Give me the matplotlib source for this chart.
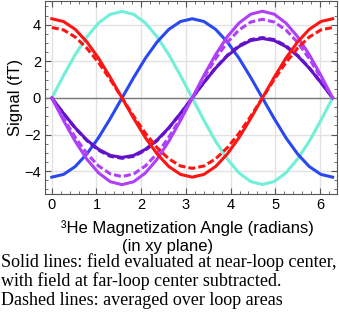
import matplotlib
matplotlib.use("Agg")
import matplotlib.pyplot as plt
from matplotlib.ticker import MultipleLocator

plt.rc('font', family='Liberation Sans', size=10.5)

# angle samples (radians), every pi/12
angle = [0.000, 0.262, 0.524, 0.785, 1.047, 1.309, 1.571, 1.833, 2.094, 2.356, 2.618, 2.880,
         3.142, 3.403, 3.665, 3.927, 4.189, 4.451, 4.712, 4.974, 5.236, 5.498, 5.760, 6.021, 6.283]

cyan_solid = [0, 1.22, 2.37, 3.34, 4.10, 4.57, 4.73, 4.57, 4.10, 3.34, 2.37, 1.22,
              0, -1.22, -2.37, -3.34, -4.10, -4.57, -4.73, -4.57, -4.10, -3.34, -2.37, -1.22, 0]
blue_solid = [-4.33, -4.18, -3.75, -3.06, -2.17, -1.12, 0, 1.12, 2.17, 3.06, 3.75, 4.18,
              4.33, 4.18, 3.75, 3.06, 2.17, 1.12, 0, -1.12, -2.17, -3.06, -3.75, -4.18, -4.33]
red_solid = [4.33, 4.18, 3.75, 3.06, 2.17, 1.12, 0, -1.12, -2.17, -3.06, -3.75, -4.18,
             -4.33, -4.18, -3.75, -3.06, -2.17, -1.12, 0, 1.12, 2.17, 3.06, 3.75, 4.18, 4.33]
red_dash = [3.85, 3.72, 3.33, 2.72, 1.93, 1.00, 0, -1.00, -1.93, -2.72, -3.33, -3.72,
            -3.85, -3.72, -3.33, -2.72, -1.93, -1.00, 0, 1.00, 1.93, 2.72, 3.33, 3.72, 3.85]
violet_solid = [0, -1.23, -2.37, -3.35, -4.10, -4.58, -4.74, -4.58, -4.10, -3.35, -2.37, -1.23,
                0, 1.23, 2.37, 3.35, 4.10, 4.58, 4.74, 4.58, 4.10, 3.35, 2.37, 1.23, 0]
violet_dash = [0, -1.11, -2.15, -3.04, -3.72, -4.15, -4.30, -4.15, -3.72, -3.04, -2.15, -1.11,
               0, 1.11, 2.15, 3.04, 3.72, 4.15, 4.30, 4.15, 3.72, 3.04, 2.15, 1.11, 0]
indigo_solid = [0, -0.84, -1.63, -2.30, -2.81, -3.14, -3.25, -3.14, -2.81, -2.30, -1.63, -0.84,
                0, 0.84, 1.63, 2.30, 2.81, 3.14, 3.25, 3.14, 2.81, 2.30, 1.63, 0.84, 0]
indigo_dash = [0, -0.85, -1.65, -2.33, -2.86, -3.19, -3.30, -3.19, -2.86, -2.33, -1.65, -0.85,
               0, 0.85, 1.65, 2.33, 2.86, 3.19, 3.30, 3.19, 2.86, 2.33, 1.65, 0.85, 0]

fig = plt.figure(figsize=(3.39, 3.18), dpi=100)
ax = fig.add_axes([0.133, 0.39, 0.861, 0.608])

lw = 2.2
dash = (0, (2.3, 1.0))
ax.axhline(0, color='#7a7a7a', lw=1.0, zorder=1)
ax.plot(angle, cyan_solid, color='#70f0d8', lw=lw)
ax.plot(angle, blue_solid, color='#2a48f0', lw=lw)
ax.plot(angle, indigo_solid, color='#6212c8', lw=lw)
ax.plot(angle, indigo_dash, color='#6212c8', lw=lw, linestyle=dash)
ax.plot(angle, violet_solid, color='#b040f8', lw=lw)
ax.plot(angle, violet_dash, color='#b040f8', lw=lw, linestyle=dash)
ax.plot(angle, red_solid, color='#ff1414', lw=lw)
ax.plot(angle, red_dash, color='#ff1414', lw=lw, linestyle=dash)

ax.set_xlim(-0.15, 6.38)
ax.set_ylim(-5.25, 5.32)
ax.xaxis.set_major_locator(MultipleLocator(1))
ax.xaxis.set_minor_locator(MultipleLocator(0.2))
ax.yaxis.set_major_locator(MultipleLocator(2))
ax.yaxis.set_minor_locator(MultipleLocator(0.5))
ax.grid(True, which='major', color='#e2e2e2', lw=1.0, zorder=0)
ax.set_axisbelow(True)
ax.tick_params(which='both', direction='in', top=True, right=True, color='#555555')
ax.tick_params(which='major', length=4, width=0.8, pad=3)
ax.tick_params(which='minor', length=2, width=0.6)
for s in ax.spines.values():
    s.set_color('#555555')
    s.set_linewidth(0.8)

ax.set_ylabel('Signal (fT)', fontsize=12, labelpad=1)

# x axis title, two lines (second line sits left of centre as in the source)
fig.text(187.5 / 339, 1 - 228 / 318, '³He Magnetization Angle (radians)',
         fontsize=12, ha='center', va='center')
fig.text(168 / 339, 1 - 247 / 318, '(in xy plane)',
         fontsize=12, ha='center', va='center')

caption = ('Solid lines: field evaluated at near-loop center,\n'
           'with field at far-loop center subtracted.\n'
           'Dashed lines: averaged over loop areas')
fig.text(0.004, 1 - 281 / 318, caption, family='Liberation Serif', fontsize=13,
         va='center', ha='left', linespacing=1.1)

fig.savefig('out.png', dpi=100)
